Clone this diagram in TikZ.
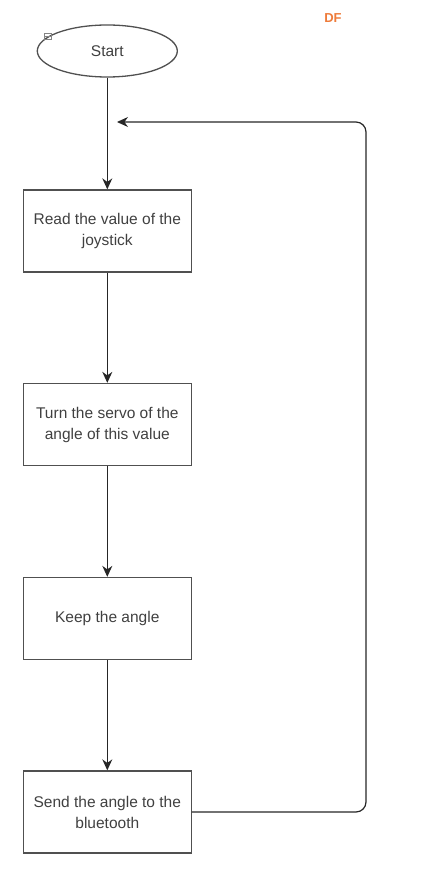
\documentclass[tikz,border=0pt]{standalone}
\usepackage{fontspec}
\setmainfont{Liberation Sans}
\usetikzlibrary{arrows.meta,shapes.geometric}
\definecolor{edge}{HTML}{505050}
\definecolor{dforange}{HTML}{EE7B3A}
\tikzset{
  procbox/.style={draw=edge,line width=1.3pt,minimum width=168pt,minimum height=82pt,align=center,inner xsep=1pt,font=\fontsize{15.5}{21}\selectfont,text=black!75},
  flow/.style={draw=black!85,line width=1.2pt,-{Stealth[length=11pt,width=10pt]}},
}
\begin{document}
\begin{tikzpicture}[x=1pt,y=-1pt]
\useasboundingbox (0,0) rectangle (430,893);
\node[ellipse,draw=edge,line width=1.3pt,minimum width=140pt,minimum height=52pt,font=\fontsize{15.5}{18}\selectfont,text=black!75] (start) at (107.3,51) {Start};
\node[draw=edge!70,line width=0.6pt,minimum width=7pt,minimum height=6pt,inner sep=0pt] (icon) at (48,36) {};
\draw[edge!70,line width=0.6pt] (icon.west) -- (icon.east);
\node[font=\bfseries\fontsize{13}{15}\selectfont,text=dforange] (df) at (333,18) {DF};
\node[procbox] (b1) at (107.3,231) {Read the value of the\\joystick};
\node[procbox] (b2) at (107.3,424.5) {Turn the servo of the\\angle of this value};
\node[procbox] (b3) at (107.3,618.5) {Keep the angle};
\node[procbox] (b4) at (107.3,812) {Send the angle to the\\bluetooth};
\coordinate (loopend) at (117,122);
\draw[flow] (start) -- (b1);
\draw[flow] (b1) -- (b2);
\draw[flow] (b2) -- (b3);
\draw[flow] (b3) -- (b4);
\draw[flow,rounded corners=10pt] (b4.east) -- (366,812) -- (366,122) -- (loopend);
\end{tikzpicture}
\end{document}
